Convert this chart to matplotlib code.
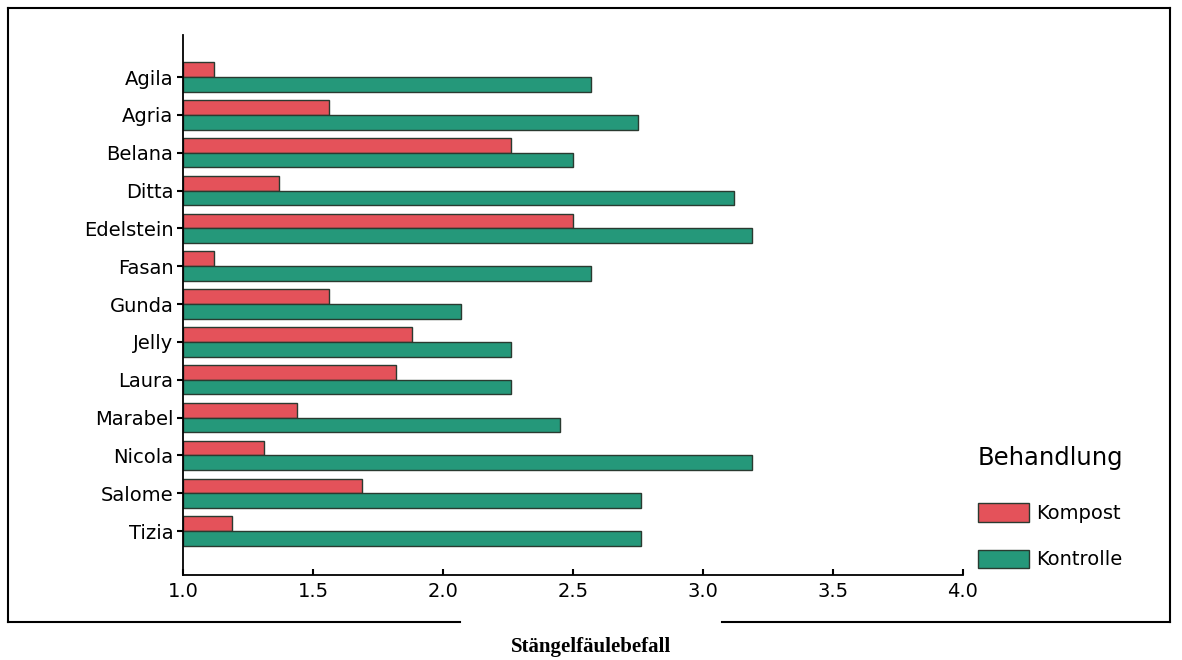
import numpy as np
import matplotlib
matplotlib.use("Agg")
import matplotlib.pyplot as plt
from matplotlib.lines import Line2D

# ---- data ----
sorten = ["Agila", "Agria", "Belana", "Ditta", "Edelstein", "Fasan", "Gunda",
          "Jelly", "Laura", "Marabel", "Nicola", "Salome", "Tizia"]
kompost = [1.12, 1.56, 2.26, 1.37, 2.50, 1.12, 1.56, 1.88, 1.82, 1.44, 1.31, 1.69, 1.19]
kontrolle = [2.57, 2.75, 2.50, 3.12, 3.19, 2.57, 2.07, 2.26, 2.26, 2.45, 3.19, 2.76, 2.76]
x_ticks = [1.0, 1.5, 2.0, 2.5, 3.0, 3.5, 4.0]
x_labels = ["1.0", "1.5", "2.0", "2.5", "3.0", "3.5", "4.0"]

red = "#e4525a"
green = "#25987a"
edge = "#2a3a30"

# the scan stretches the text sideways, DejaVu is the widest sans at hand
plt.rcParams["font.family"] = ["DejaVu Sans"]

W, H = 1182, 660
def fx(px):
    return px / W
def fy(py):
    return 1 - py / H

fig = plt.figure(figsize=(11.82, 6.60), dpi=100)
ax = fig.add_axes([fx(183), fy(575), fx(963) - fx(183), fy(35) - fy(575)])

y = np.arange(len(sorten))
h = 0.39
base = 1.0
ax.barh(y - h / 2, np.array(kompost) - base, left=base, height=h,
        color=red, edgecolor=edge, linewidth=1.0, label="Kompost")
ax.barh(y + h / 2, np.array(kontrolle) - base, left=base, height=h,
        color=green, edgecolor=edge, linewidth=1.0, label="Kontrolle")

ax.set_xlim(1.0, 4.0)
ax.set_ylim(len(sorten) - 1 + 1.16, -1.11)
ax.set_xticks(x_ticks)
ax.set_xticklabels(x_labels)
ax.set_yticks(y)
ax.set_yticklabels(sorten)
ax.tick_params(axis="both", labelsize=14, length=4, width=1.5, color="black")
ax.tick_params(axis="x", pad=5, direction="in")
ax.tick_params(axis="y", pad=3)
for s in ["top", "right"]:
    ax.spines[s].set_visible(False)
for s in ["left", "bottom"]:
    ax.spines[s].set_linewidth(1.3)

leg = ax.legend(loc="upper left", bbox_to_anchor=(fx(978), fy(446)),
                bbox_transform=fig.transFigure, frameon=False,
                borderpad=0, borderaxespad=0,
                title="Behandlung", fontsize=14, title_fontsize=17.5,
                handlelength=2.6, handleheight=1.1, labelspacing=1.35,
                handletextpad=0.4, alignment="left")
leg._legend_box.sep = 24

# outer frame of the scanned figure, with a gap for the axis title
frame = dict(color="black", linewidth=1.5, transform=fig.transFigure)
fig.add_artist(Line2D([fx(8), fx(8)], [fy(8), fy(622)], **frame))
fig.add_artist(Line2D([fx(8), fx(1170)], [fy(8), fy(8)], **frame))
fig.add_artist(Line2D([fx(1170), fx(1170)], [fy(8), fy(622)], **frame))
fig.add_artist(Line2D([fx(8), fx(460)], [fy(622), fy(622)], **frame))
fig.add_artist(Line2D([fx(722), fx(1170)], [fy(622), fy(622)], **frame))

fig.text(0.5, fy(647), "Stängelfäulebefall", ha="center", va="center",
         fontsize=15, fontweight="bold", family=["Liberation Serif", "DejaVu Serif"])

plt.savefig("out.png", dpi=100)
